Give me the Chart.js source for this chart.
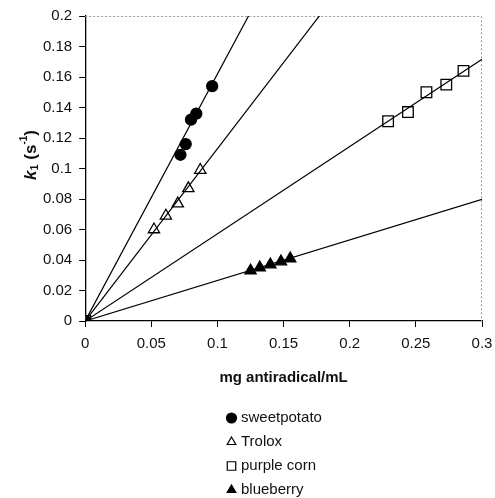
<!DOCTYPE html>
<html>
<head>
<meta charset="utf-8">
<script src="https://cdn.jsdelivr.net/npm/chart.js@4/dist/chart.umd.min.js"></script>
<style>
  body { margin: 0; background: #fff; }
  #wrap { position: relative; width: 495px; height: 498px; }
  #legend { position: absolute; left: 225px; top: 405px; font: 15px "Liberation Sans", Arial, sans-serif; color: #111; }
  #legend div { height: 24px; line-height: 24px; display: flex; align-items: center; }
  #legend canvas { margin-right: 3px; }
</style>
</head>
<body>
<div id="wrap">
  <canvas id="chart" width="495" height="498"></canvas>
  <div id="legend"></div>
</div>
<script>
// values
const seriesNames = ["sweetpotato", "Trolox", "purple corn", "blueberry"];
const sweetpotatoX = [0, 0.072, 0.076, 0.080, 0.084, 0.096];
const sweetpotatoY = [0, 0.109, 0.116, 0.132, 0.136, 0.154];
const troloxX = [0, 0.052, 0.061, 0.070, 0.078, 0.087];
const troloxY = [0, 0.060, 0.069, 0.077, 0.087, 0.099];
const purpleCornX = [0, 0.229, 0.244, 0.258, 0.273, 0.286];
const purpleCornY = [0, 0.131, 0.137, 0.150, 0.155, 0.164];
const blueberryX = [0, 0.125, 0.132, 0.140, 0.148, 0.155];
const blueberryY = [0, 0.033, 0.035, 0.037, 0.039, 0.041];
// slopes of the fitted lines through the origin
const fitSlopes = [1.62, 1.13, 0.572, 0.266];
const xMin = 0, xMax = 0.3, xStep = 0.05;
const yMin = 0, yMax = 0.2, yStep = 0.02;

const xs = [sweetpotatoX, troloxX, purpleCornX, blueberryX];
const ys = [sweetpotatoY, troloxY, purpleCornY, blueberryY];

const markers = [
  { pointStyle: "circle", radius: 5.5, fill: "#000" },
  { pointStyle: "triangle", radius: 6.5, fill: "#fff" },
  { pointStyle: "rect", radius: 7.5, fill: "#fff" },
  { pointStyle: "triangle", radius: 6.5, fill: "#000" },
];

const toPoints = (x, y) => x.map((v, i) => ({ x: v, y: y[i] }));

const datasets = [];
// fit lines first so the markers sit on top
fitSlopes.forEach((s, i) => {
  datasets.push({
    type: "line",
    label: seriesNames[i] + " fit",
    data: [{ x: xMin, y: 0 }, { x: xMax, y: s * xMax }],
    borderColor: "#000",
    borderWidth: 1.2,
    pointRadius: 0,
    fill: false,
  });
});
seriesNames.forEach((name, i) => {
  datasets.push({
    type: "scatter",
    label: name,
    data: toPoints(xs[i], ys[i]),
    pointStyle: markers[i].pointStyle,
    pointRadius: markers[i].radius,
    backgroundColor: markers[i].fill,
    borderColor: "#000",
    borderWidth: 1.3,
  });
});

// dotted top/right frame
const frame = {
  id: "frame",
  beforeDatasetsDraw(chart) {
    const { ctx, chartArea: a } = chart;
    ctx.save();
    ctx.strokeStyle = "#999";
    ctx.lineWidth = 1;
    ctx.setLineDash([2, 2]);
    ctx.beginPath();
    ctx.moveTo(a.left, a.top + 0.5);
    ctx.lineTo(a.right - 0.5, a.top + 0.5);
    ctx.lineTo(a.right - 0.5, a.bottom);
    ctx.stroke();
    ctx.restore();
  },
};

// y title: k1 (s-1) with italic k, subscript and superscript
const yTitle = {
  id: "yTitle",
  afterDraw(chart) {
    const { ctx } = chart;
    const parts = [
      { t: "k", f: "italic bold 17px 'Liberation Sans', Arial", dy: 0 },
      { t: "1", f: "bold 11px 'Liberation Sans', Arial", dy: 4 },
      { t: " (s", f: "bold 17px 'Liberation Sans', Arial", dy: 0 },
      { t: "-1", f: "bold 10px 'Liberation Sans', Arial", dy: -7 },
      { t: ")", f: "bold 17px 'Liberation Sans', Arial", dy: 0 },
    ];
    ctx.save();
    let w = 0;
    parts.forEach(p => { ctx.font = p.f; w += ctx.measureText(p.t).width; });
    ctx.translate(31, 155);
    ctx.rotate(-Math.PI / 2);
    ctx.fillStyle = "#111";
    ctx.textBaseline = "middle";
    let x = -w / 2;
    parts.forEach(p => {
      ctx.font = p.f;
      ctx.fillText(p.t, x, p.dy);
      x += ctx.measureText(p.t).width;
    });
    ctx.restore();
  },
};

const tickFont = { family: "'Liberation Sans', Arial, sans-serif", size: 15 };
const plainNum = v => String(+Number(v).toFixed(4));

const chart = new Chart(document.getElementById("chart"), {
  type: "scatter",
  data: { datasets: datasets },
  options: {
    responsive: false,
    animation: false,
    layout: { padding: { left: 36, top: 14.5, right: 0, bottom: 111 } },
    plugins: {
      legend: { display: false },
      tooltip: { enabled: false },
    },
    scales: {
      x: {
        type: "linear",
        min: xMin,
        max: xMax,
        ticks: { stepSize: xStep, font: tickFont, color: "#111", padding: 8, callback: plainNum },
        grid: { drawOnChartArea: false, drawTicks: true, tickLength: 6, color: "#000" },
        border: { color: "#000", width: 1.3 },
        title: {
          display: true,
          text: "mg antiradical/mL",
          font: { family: "'Liberation Sans', Arial, sans-serif", size: 15, weight: "bold" },
          color: "#111",
          padding: { top: 8, bottom: 0 },
        },
        // the tick padding would otherwise also push the right edge in
        afterFit: s => { s.paddingRight = 13; s.paddingLeft = 4; },
      },
      y: {
        type: "linear",
        min: yMin,
        max: yMax,
        ticks: { stepSize: yStep, font: tickFont, color: "#111", padding: 7, callback: plainNum },
        grid: { drawOnChartArea: false, drawTicks: true, tickLength: 6, color: "#000" },
        border: { color: "#000", width: 1.3 },
      },
    },
  },
  plugins: [frame, yTitle],
});

// legend built from the scatter datasets
const legend = document.getElementById("legend");
seriesNames.forEach((name, i) => {
  const row = document.createElement("div");
  const c = document.createElement("canvas");
  c.width = 13; c.height = 13;
  const cx = c.getContext("2d");
  cx.fillStyle = markers[i].fill;
  cx.strokeStyle = "#000";
  cx.lineWidth = 1.2;
  Chart.helpers.drawPoint(cx, { pointStyle: markers[i].pointStyle, radius: markers[i].pointStyle === "rect" ? 6 : 5, borderWidth: 1.2 }, 6.5, 7);
  row.appendChild(c);
  row.appendChild(document.createTextNode(name));
  legend.appendChild(row);
});
</script>
</body>
</html>
